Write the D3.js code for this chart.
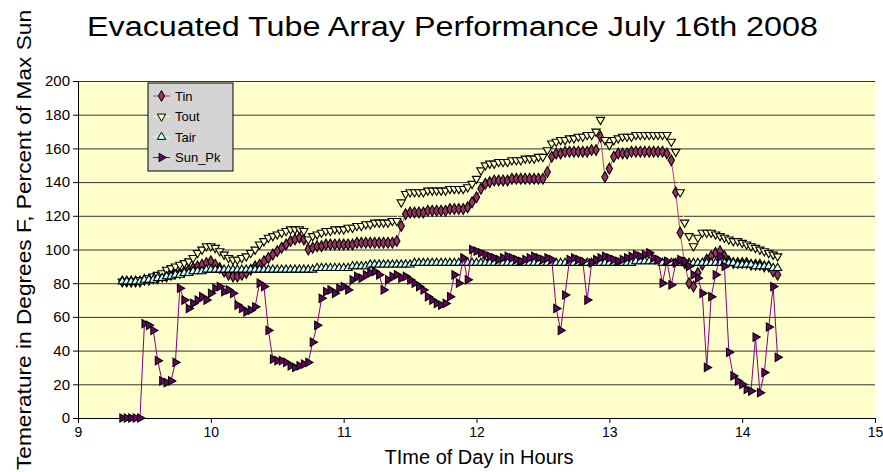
<!DOCTYPE html>
<html>
<head>
	<meta charset="UTF-8" />
	<title>Evacuated Tube Array Performance</title>
	<script src="https://d3js.org/d3.v7.min.js"></script>
	<style type="text/css">
		body{margin:0; background:#fff;}
		text{font-family:"Liberation Sans", Arial, sans-serif; fill:#000;}
		.axis path, .axis line{stroke:#000;}
		.grid line{stroke:#333;}
		.grid path{display:none;}
	</style>
</head>
<body>
	<svg id="chart"></svg>

	<script type="text/javascript">
	// logger readings, minutes after 9:00 (every 2 min)
	var minutes = [
		20,22,24,26,28,30,32,34,36,38,
		40,42,44,46,48,50,52,54,56,58,
		60,62,64,66,68,70,72,74,76,78,
		80,82,84,86,88,90,92,94,96,98,
		100,102,104,106,108,110,112,114,116,118,
		120,122,124,126,128,130,132,134,136,138,
		140,142,144,146,148,150,152,154,156,158,
		160,162,164,166,168,170,172,174,176,178,
		180,182,184,186,188,190,192,194,196,198,
		200,202,204,206,208,210,212,214,216,218,
		220,222,224,226,228,230,232,234,236,238,
		240,242,244,246,248,250,252,254,256,258,
		260,262,264,266,268,270,272,274,276,278,
		280,282,284,286,288,290,292,294,296,298,
		300,302,304,306,308,310,312,314,316]

	var tin = [
		81,81,81,81,81,82,82,83,83,84,
		84,85,86,86,87,88,89,90,91,92,
		93,91,89,87,85,84,84,85,86,88,
		90,91,93,95,97,99,101,103,105,106,
		107,106,100,101,102,102,103,103,103,103,
		103,103,103,104,104,104,104,104,104,104,
		104,104,105,114,121,122,122,122,122,123,
		123,123,123,123,124,124,124,124,125,128,
		131,136,139,140,141,141,141,141,142,142,
		142,142,142,142,142,142,146,155,157,157,
		158,158,158,158,158,158,159,159,167,143,
		148,155,157,157,157,158,158,158,158,158,
		158,158,158,157,153,134,110,92,80,78,
		86,91,94,96,98,99,96,93,92,92,
		92,92,91,91,91,90,90,87,85]

	var tout = [
		81,81,81,81,82,82,83,84,85,86,
		88,89,90,91,92,93,95,98,100,102,
		102,101,99,97,95,94,94,95,96,98,
		100,103,105,107,108,109,110,111,112,112,
		112,111,106,108,109,110,111,111,112,112,
		112,113,113,114,114,115,115,116,116,116,
		116,117,117,128,133,134,134,134,134,135,
		135,135,135,135,136,136,136,136,137,139,
		142,147,150,151,151,152,152,152,153,153,
		153,154,154,154,155,155,159,163,164,165,
		165,166,166,167,167,168,168,170,177,165,
		162,165,166,167,167,167,168,168,168,168,
		168,168,168,168,164,158,134,116,108,102,
		107,110,110,110,109,108,107,106,105,105,
		104,103,102,101,100,99,98,97,96]

	var tair = [
		81,81,81,81,81,82,82,82,83,83,
		84,84,85,85,86,86,87,87,87,88,
		88,88,88,88,88,88,88,88,88,88,
		88,88,88,88,88,88,88,88,88,88,
		88,88,88,88,89,89,89,89,89,89,
		89,89,90,90,90,90,91,91,91,91,
		91,91,91,91,91,91,92,92,92,92,
		92,92,92,92,92,92,92,92,92,92,
		92,92,92,92,92,92,92,92,92,92,
		92,92,92,92,92,92,92,92,92,92,
		92,92,92,92,92,92,92,92,92,92,
		92,92,92,92,92,92,93,93,93,93,
		93,93,92,92,92,92,92,92,92,92,
		92,92,92,92,92,92,92,92,92,91,
		91,91,91,90,90,90,90,89,89]

	var sunPk = [
		0,0,0,0,0,56,55,52,34,22,
		21,22,33,77,70,65,68,70,72,70,
		74,77,78,75,76,74,67,65,63,64,
		66,80,78,52,35,34,34,33,31,30,
		31,32,33,45,55,71,75,76,74,77,
		78,76,82,84,83,85,86,87,85,76,
		82,84,85,83,84,82,80,78,76,72,
		70,68,67,68,72,85,80,95,82,100,
		99,98,97,96,95,94,95,96,95,94,
		93,94,95,96,95,94,95,94,65,52,
		73,94,95,94,93,70,92,94,95,96,
		95,94,93,94,95,96,97,96,97,98,
		95,94,80,93,79,92,94,93,90,85,
		83,74,30,72,85,96,90,39,25,22,
		20,17,16,48,15,27,54,78,36]

	var xTicks = [9, 10, 11, 12, 13, 14, 15]
	var yTicks = [0, 20, 40, 60, 80, 100, 120, 140, 160, 180, 200]

	var hours = minutes.map(m => 9 + m/60)

	var series = [
		{name: "Tin", values: tin, line: "#b0407a", fill: "#993366", shape: d3.symbolDiamond, rot: 0},
		{name: "Tout", values: tout, line: "#ffff99", fill: "#ffffcc", shape: d3.symbolTriangle, rot: 180},
		{name: "Tair", values: tair, line: "#ccffff", fill: "#ccffff", shape: d3.symbolTriangle, rot: 0},
		{name: "Sun_Pk", values: sunPk, line: "#800080", fill: "#660066", shape: d3.symbolTriangle, rot: 90}
	]

	// window
	var w = 883
	var h = 472
	var margin = {top: 81, right: 8, bottom: 54, left: 78}
	var width = w - margin.left - margin.right
	var height = h - margin.top - margin.bottom

	var svg = d3.select("#chart")
		.attr("width", w)
		.attr("height", h)

	var g = svg.append("g")
		.attr("transform", "translate(" + margin.left + "," + margin.top + ")")

	var xScale = d3.scaleLinear().domain([9, 15]).range([0, width])
	var yScale = d3.scaleLinear().domain([0, 200]).range([height, 0])

	// plot area
	g.append("rect")
		.attr("width", width)
		.attr("height", height)
		.attr("fill", "#ffffcc")

	// gridlines
	g.append("g")
		.attr("class", "grid")
		.call(d3.axisLeft(yScale).tickValues(yTicks).tickSize(-width).tickFormat(""))

	// axes
	g.append("g")
		.attr("class", "axis")
		.attr("transform", "translate(0," + height + ")")
		.call(d3.axisBottom(xScale).tickValues(xTicks).tickFormat(d3.format("d")).tickSize(5).tickSizeOuter(0).tickPadding(4))
		.selectAll("text").style("font-size", "14px")

	g.append("g")
		.attr("class", "axis")
		.call(d3.axisLeft(yScale).tickValues(yTicks).tickSize(5).tickSizeOuter(0).tickPadding(3))
		.selectAll("text").style("font-size", "15px")

	g.selectAll(".axis text").style("font-family", "Liberation Sans, Arial, sans-serif")

	// series: line then markers
	var line = d3.line()
		.x((d, i) => xScale(hours[i]))
		.y(d => yScale(d))

	function markerSize(s){ return s.shape === d3.symbolDiamond ? 34 : 30 }

	series.forEach(s => {
		g.append("path")
			.datum(s.values)
			.attr("fill", "none")
			.attr("stroke", s.line)
			.attr("stroke-width", 1)
			.attr("d", line)

		var sym = d3.symbol().type(s.shape).size(markerSize(s))
		g.append("g").selectAll("path")
			.data(s.values)
			.enter()
			.append("path")
			.attr("d", sym)
			.attr("transform", (d, i) => "translate(" + xScale(hours[i]) + "," + yScale(d) + ") rotate(" + s.rot + ")")
			.attr("fill", s.fill)
			.attr("stroke", "#000")
			.attr("stroke-width", 1.1)
	})

	// legend
	var legend = svg.append("g").attr("transform", "translate(148,83)")
	legend.append("rect")
		.attr("width", 85)
		.attr("height", 88)
		.attr("fill", "#d4d4d4")
		.attr("stroke", "#000")
		.attr("stroke-width", 1)

	var items = legend.selectAll(".item")
		.data(series)
		.enter()
		.append("g")
		.attr("transform", (d, i) => "translate(0," + (13 + i*20.5) + ")")

	items.append("line")
		.attr("x1", 5).attr("x2", 22)
		.attr("stroke", d => d.line)
		.attr("stroke-width", 1)
	items.append("path")
		.attr("d", d => d3.symbol().type(d.shape).size(markerSize(d))())
		.attr("transform", d => "translate(13.5,0) rotate(" + d.rot + ")")
		.attr("fill", d => d.fill)
		.attr("stroke", "#000")
		.attr("stroke-width", 1)
	items.append("text")
		.attr("x", 27)
		.attr("dy", "0.36em")
		.style("font-size", "13px")
		.text(d => d.name)

	// titles
	svg.append("text")
		.attr("x", 87)
		.attr("y", 36)
		.attr("textLength", 731)
		.attr("lengthAdjust", "spacingAndGlyphs")
		.style("font-size", "27px")
		.text("Evacuated Tube Array Performance July 16th 2008")

	svg.append("text")
		.attr("x", 479)
		.attr("y", 464)
		.attr("text-anchor", "middle")
		.style("font-size", "20px")
		.text("TIme of Day in Hours")

	svg.append("text")
		.attr("transform", "translate(31,240) rotate(-90)")
		.attr("text-anchor", "middle")
		.attr("textLength", 460)
		.attr("lengthAdjust", "spacingAndGlyphs")
		.style("font-size", "21px")
		.text("Temerature in Degrees F, Percent of Max Sun")
	</script>
</body>
</html>
